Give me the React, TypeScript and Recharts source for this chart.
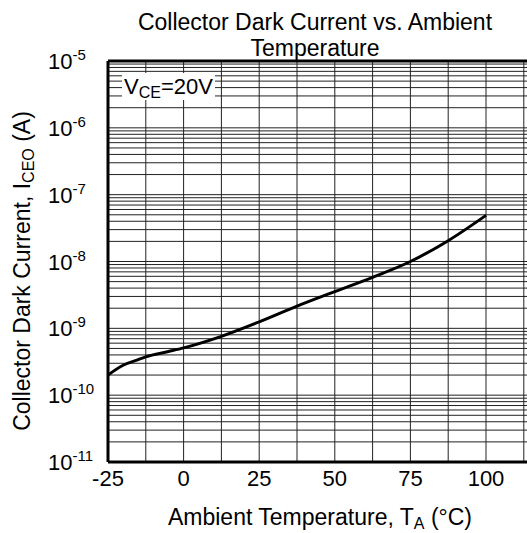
import React from "react"
import { LineChart, Line, XAxis, YAxis, CartesianGrid, ReferenceLine } from "recharts"

// ambient temperature (°C) and collector dark current ICEO (A)
const temps = [-25, -20, -15, -12.5, -5, 0, 12.5, 25, 37.5, 50, 62.5, 75, 87.5, 100]
const darkCurrent = [
  2.0e-10, 2.8e-10, 3.4e-10, 3.75e-10, 4.5e-10, 5.1e-10, 7.6e-10, 1.25e-9, 2.15e-9, 3.55e-9,
  5.8e-9, 1.0e-8, 2.05e-8, 4.9e-8,
]

const xTicks = [-25, -12.5, 0, 12.5, 25, 37.5, 50, 62.5, 75, 87.5, 100, 112.5, 125]
const xLabels = [-25, 0, 25, 50, 75, 100]
const decades = [-11, -10, -9, -8, -7, -6]
const mantissas = [1, 2, 3, 4, 5, 6, 7, 8, 9]

const yTicks = [...decades.flatMap((e) => mantissas.map((m) => m * Math.pow(10, e))), 1e-5]

const data = temps.map((t, i) => ({ temp: t, current: darkCurrent[i] }))

const font = '"Liberation Sans", Arial, sans-serif'

function YTick({ y, payload }: any) {
  const lg = Math.log10(payload.value)
  const exp = Math.round(lg)
  if (Math.abs(lg - exp) > 1e-6) return <g />
  return (
    <text x={48} y={y + 8} fontSize={22} fontFamily={font} fill="#000">
      10
      <tspan dy={-9} fontSize={15}>
        {exp}
      </tspan>
    </text>
  )
}

function XTick({ x, y, payload }: any) {
  if (!xLabels.includes(payload.value)) return <g />
  return (
    <text x={x} y={y + 16} textAnchor="middle" fontSize={22} fontFamily={font} fill="#000">
      {payload.value}
    </text>
  )
}

const sub: React.CSSProperties = { fontSize: 16, position: "relative", top: 4 }

export default function App() {
  return (
    <div
      style={{
        position: "absolute",
        top: 0,
        left: 0,
        width: 527,
        height: 533,
        overflow: "hidden",
        background: "#fff",
        fontFamily: font,
        color: "#000",
      }}
    >
      <div style={{ position: "absolute", top: 0, left: 0 }}>
        <LineChart width={600} height={533} data={data} margin={{ top: 61, right: 38.4, left: 18, bottom: 41 }}>
          <CartesianGrid stroke="#222" strokeWidth={1} horizontal vertical />
          <XAxis
            dataKey="temp"
            type="number"
            domain={[-25, 125]}
            ticks={xTicks}
            interval={0}
            allowDataOverflow
            tickLine={false}
            axisLine={{ stroke: "#000", strokeWidth: 3 }}
            tick={<XTick />}
            height={30}
          />
          <YAxis
            scale="log"
            domain={[1e-11, 1e-5]}
            ticks={yTicks}
            interval={0}
            allowDataOverflow
            tickLine={false}
            axisLine={{ stroke: "#000", strokeWidth: 3 }}
            tick={<YTick />}
            width={90}
          />
          <ReferenceLine y={1e-5} stroke="#000" strokeWidth={3} />
          <Line
            type="monotone"
            dataKey="current"
            stroke="#000"
            strokeWidth={3}
            dot={false}
            isAnimationActive={false}
          />
        </LineChart>
      </div>

      <div style={{ position: "absolute", top: 9, left: 115, width: 400, textAlign: "center", fontSize: 23, lineHeight: "26px", whiteSpace: "nowrap" }}>
        Collector Dark Current vs. Ambient
        <br />
        Temperature
      </div>

      <div
        style={{
          position: "absolute",
          top: 73,
          left: 122,
          width: 93,
          height: 27,
          background: "#fff",
          fontSize: 22,
          lineHeight: "27px",
          paddingLeft: 2,
          boxSizing: "border-box",
          whiteSpace: "nowrap",
        }}
      >
        V<span style={sub}>CE</span>=20V
      </div>

      <div
        style={{
          position: "absolute",
          top: 258,
          left: -178,
          width: 400,
          height: 26,
          lineHeight: "26px",
          textAlign: "center",
          fontSize: 23,
          transform: "rotate(-90deg)",
          whiteSpace: "nowrap",
        }}
      >
        Collector Dark Current, I<span style={sub}>CEO</span> (A)
      </div>

      <div style={{ position: "absolute", top: 504, left: 120, width: 400, textAlign: "center", fontSize: 23, lineHeight: "26px", whiteSpace: "nowrap" }}>
        Ambient Temperature, T<span style={sub}>A</span> (°C)
      </div>
    </div>
  )
}
